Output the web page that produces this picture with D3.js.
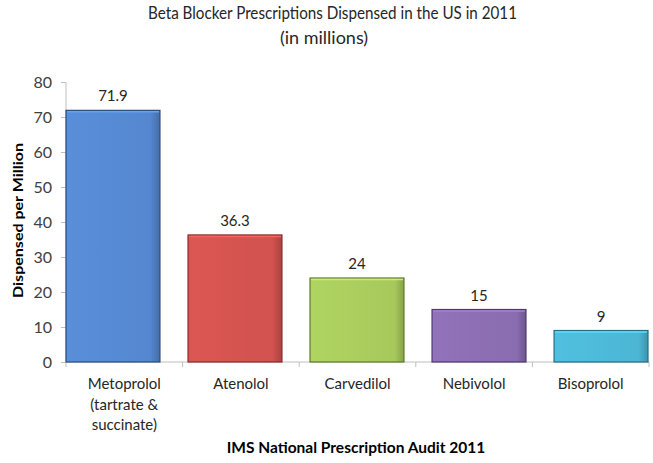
<!DOCTYPE html>
<html><head><meta charset="utf-8">
<script src="https://cdn.jsdelivr.net/npm/d3@7"></script>
<style>body{margin:0;background:#fff}svg{display:block}text{font-family:Lato,"Open Sans",sans-serif}</style>
</head><body><svg id="c" width="653" height="463"></svg>
<script>
const categories = ["Metoprolol\n(tartrate &\nsuccinate)", "Atenolol", "Carvedilol", "Nebivolol", "Bisoprolol"];
const values = [71.9, 36.3, 24, 15, 9];
const valueLabels = ["71.9", "36.3", "24", "15", "9"];
const yTicks = [0, 10, 20, 30, 40, 50, 60, 70, 80];
const colors = ["#5487cf", "#d1524f", "#a7c95c", "#8a6cb0", "#4cb6d4"];
const borders = ["#2c4d7c", "#8a2b29", "#5f7a2a", "#4e3a6c", "#236f85"];

const svg = d3.select("#c");
const y = d3.scaleLinear().domain([0, 80]).range([362, 82]);
const xBar = d3.scaleBand().domain(d3.range(5)).range([66, 648]).paddingInner(0.23).paddingOuter(0);
const xCat = d3.scaleBand().domain(d3.range(5)).range([66, 649]).padding(0);

const defs = svg.append("defs");
colors.forEach((c, i) => {
  const g = defs.append("linearGradient").attr("id", "g" + i).attr("x1", 0).attr("x2", 1).attr("y1", 0).attr("y2", 0);
  g.append("stop").attr("offset", "0%").attr("stop-color", d3.color(c).brighter(0.15));
  g.append("stop").attr("offset", "90%").attr("stop-color", c);
  g.append("stop").attr("offset", "100%").attr("stop-color", d3.color(c).darker(0.6));
});

// Title
svg.append("text").attr("x", 332.5).attr("y", 19).attr("text-anchor", "middle").attr("font-size", 17).attr("fill", "#262626")
  .attr("textLength", 369).attr("lengthAdjust", "spacingAndGlyphs")
  .text("Beta Blocker Prescriptions Dispensed in the US in 2011");
svg.append("text").attr("x", 324).attr("y", 44).attr("text-anchor", "middle").attr("font-size", 18).attr("fill", "#262626")
  .text("(in millions)");

// Y axis
const yAxis = svg.append("g").attr("transform", "translate(66,0)")
  .call(d3.axisLeft(y).tickValues(yTicks).tickSize(5).tickPadding(9));
yAxis.select(".domain").attr("stroke", "#bfbfbf").attr("d", `M0,${y(80)}V${y(0)}`);
yAxis.selectAll(".tick line").attr("stroke", "#bfbfbf");
yAxis.selectAll(".tick text").attr("font-size", 16).attr("fill", "#404040").attr("font-family", "Lato, sans-serif");

// X axis line and ticks
const xg = svg.append("g");
xg.append("line").attr("x1", 66).attr("x2", 649).attr("y1", y(0)).attr("y2", y(0)).attr("stroke", "#bfbfbf");
xg.selectAll("line.t").data(d3.range(6)).join("line").attr("class", "t")
  .attr("x1", d => d < 5 ? xCat(d) : xCat(4) + xCat.bandwidth())
  .attr("x2", d => d < 5 ? xCat(d) : xCat(4) + xCat.bandwidth())
  .attr("y1", y(0)).attr("y2", y(0) + 5).attr("stroke", "#bfbfbf");

// Bars
svg.append("g").selectAll("rect").data(values).join("rect")
  .attr("x", (d, i) => xBar(i)).attr("width", xBar.bandwidth())
  .attr("y", d => y(d)).attr("height", d => y(0) - y(d))
  .attr("fill", (d, i) => `url(#g${i})`).attr("stroke", (d, i) => borders[i]).attr("stroke-width", 1.2);
svg.append("g").selectAll("line").data(values).join("line")
  .attr("x1", (d, i) => xBar(i) + 1).attr("x2", (d, i) => xBar(i) + xBar.bandwidth() - 1)
  .attr("y1", d => y(d) + 1.5).attr("y2", d => y(d) + 1.5)
  .attr("stroke", (d, i) => d3.color(colors[i]).brighter(0.5)).attr("stroke-width", 1.5);

// Value labels
svg.append("g").selectAll("text").data(values).join("text")
  .attr("x", (d, i) => xBar(i) + xBar.bandwidth() / 2).attr("y", d => y(d) - 9)
  .attr("text-anchor", "middle").attr("font-size", 15).attr("fill", "#262626")
  .text((d, i) => valueLabels[i]);

// Category labels
const cl = svg.append("g").selectAll("text").data(categories).join("text")
  .attr("text-anchor", "middle").attr("font-size", 15).attr("fill", "#262626");
cl.each(function (d, i) {
  const t = d3.select(this);
  d.split("\n").forEach((line, j) => {
    t.append("tspan").attr("x", xCat(i) + xCat.bandwidth() / 2).attr("y", 389 + j * 20.5).text(line);
  });
});

// Axis titles
svg.append("text").attr("transform", "translate(23,220.5) rotate(-90)").attr("text-anchor", "middle")
  .attr("font-size", 14).attr("font-weight", "bold").attr("fill", "#000")
  .attr("textLength", 155).attr("lengthAdjust", "spacingAndGlyphs").text("Dispensed per Million");
svg.append("text").attr("x", 356).attr("y", 453).attr("text-anchor", "middle")
  .attr("font-size", 15.5).attr("font-weight", "bold").attr("fill", "#000")
  .text("IMS National Prescription Audit 2011");
</script></body></html>
